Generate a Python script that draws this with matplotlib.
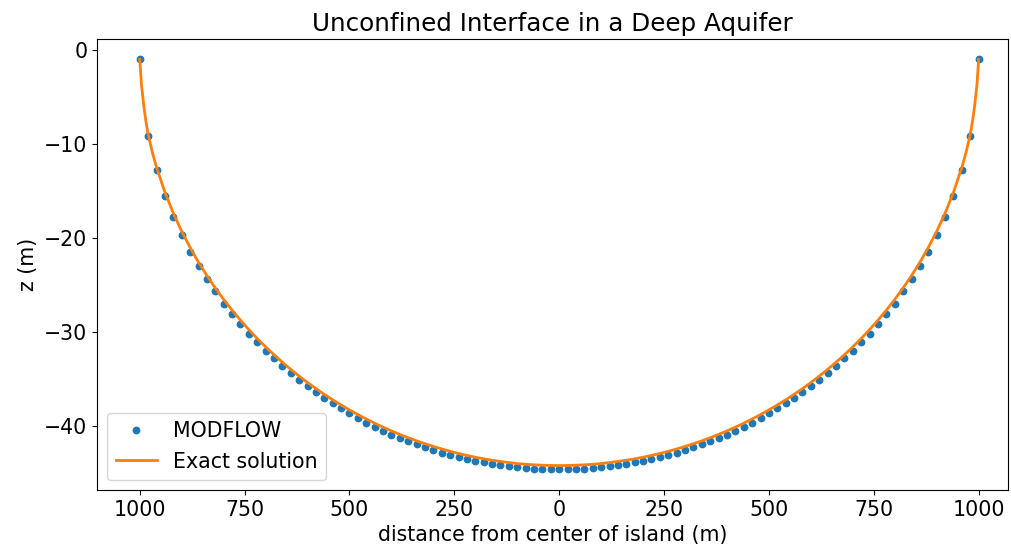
import matplotlib
matplotlib.use("Agg")
import matplotlib.pyplot as plt
from matplotlib.ticker import FuncFormatter

# MODFLOW interface elevations, left half (x = -1000 ... 0 every 20 m); the profile is symmetric
x_pts_left = [-1000, -980, -960, -940, -920, -900, -880, -860, -840, -820,
              -800, -780, -760, -740, -720, -700, -680, -660, -640, -620,
              -600, -580, -560, -540, -520, -500, -480, -460, -440, -420,
              -400, -380, -360, -340, -320, -300, -280, -260, -240, -220,
              -200, -180, -160, -140, -120, -100, -80, -60, -40, -20, 0]
z_pts_left = [-1.0, -9.16, -12.78, -15.52, -17.78, -19.70, -21.48, -23.00, -24.35, -25.70,
              -27.00, -28.10, -29.20, -30.20, -31.10, -32.00, -32.80, -33.65, -34.40, -35.10,
              -35.80, -36.40, -37.02, -37.60, -38.17, -38.68, -39.20, -39.67, -40.12, -40.55,
              -40.95, -41.32, -41.68, -42.00, -42.32, -42.60, -42.87, -43.11, -43.35, -43.56,
              -43.74, -43.91, -44.07, -44.21, -44.33, -44.43, -44.51, -44.57, -44.61, -44.64, -44.65]

# Exact solution, left half
x_ex_left = [-1000, -996, -990, -985, -980, -970, -960, -940, -920, -900, -880, -860, -840, -820,
             -800, -780, -760, -740, -720, -700, -680, -660, -640, -620,
             -600, -580, -560, -540, -520, -500, -480, -460, -440, -420,
             -400, -380, -360, -340, -320, -300, -280, -260, -240, -220,
             -200, -180, -160, -140, -120, -100, -80, -60, -40, -20, 0]
z_ex_left = [-1.0, -3.7, -6.1, -7.7, -9.0, -10.9, -12.5, -15.15, -17.38, -19.32, -21.03, -22.60, -24.02, -25.34,
             -26.56, -27.70, -28.77, -29.77, -30.72, -31.61, -32.45, -33.25, -34.01, -34.73,
             -35.41, -36.05, -36.67, -37.25, -37.80, -38.32, -38.82, -39.29, -39.74, -40.16,
             -40.56, -40.93, -41.28, -41.62, -41.92, -42.21, -42.48, -42.73, -42.96, -43.17,
             -43.36, -43.53, -43.68, -43.81, -43.93, -44.03, -44.11, -44.17, -44.21, -44.24, -44.25]

# mirror to the right half
x_pts = x_pts_left + [-v for v in x_pts_left[-2::-1]]
z_pts = z_pts_left + z_pts_left[-2::-1]
x_ex = x_ex_left + [-v for v in x_ex_left[-2::-1]]
z_ex = z_ex_left + z_ex_left[-2::-1]

plt.rcParams['font.family'] = ['DejaVu Sans']
plt.rcParams['font.size'] = 14.8

W, H = 1011, 554
fig = plt.figure(figsize=(W / 100, H / 100), dpi=100)
ax = fig.add_axes([97 / W, (H - 490) / H, (1008 - 97) / W, (490 - 39) / H])

ax.plot(x_pts, z_pts, 'o', color='C0', markersize=4.6, label='MODFLOW')
ax.plot(x_ex, z_ex, '-', color='C1', linewidth=2, label='Exact solution')

ax.set_xlim(-1102, 1070)
ax.set_ylim(-46.85, 1.17)
ax.set_xticks([-1000, -750, -500, -250, 0, 250, 500, 750, 1000])
ax.xaxis.set_major_formatter(FuncFormatter(lambda v, p: f"{abs(int(round(v)))}"))
ax.set_yticks([0, -10, -20, -30, -40])

ax.set_title('Unconfined Interface in a Deep Aquifer')
ax.set_xlabel('distance from center of island (m)')
ax.set_ylabel('z (m)')
ax.legend(loc='lower left')

fig.savefig('out.png', dpi=100)
